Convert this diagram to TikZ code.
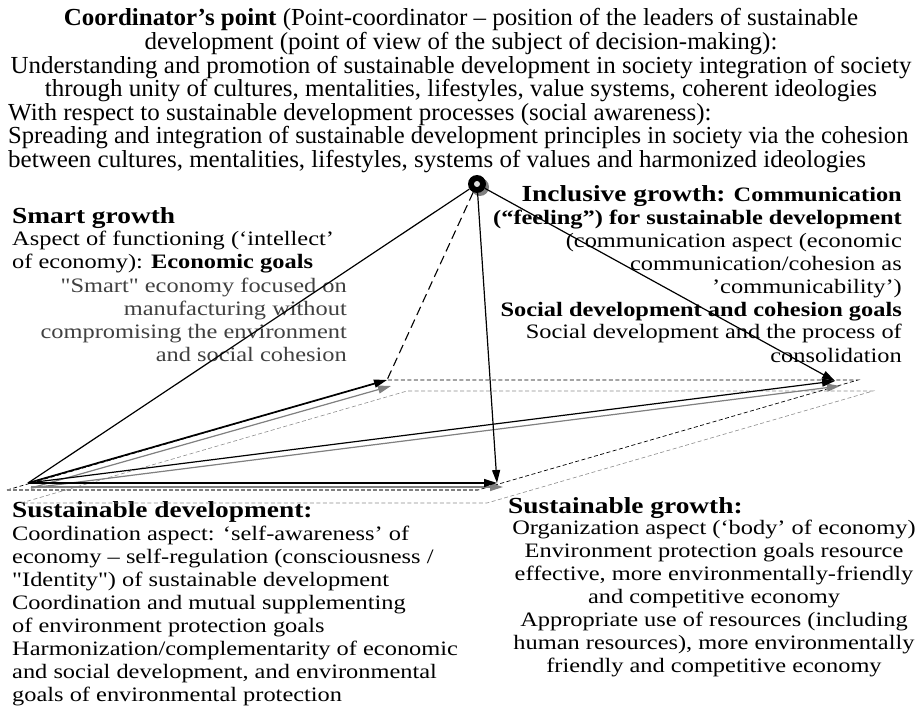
\documentclass[tikz,border=0pt]{standalone}
\usepackage{fontspec}
\setmainfont{Liberation Serif}
\newfontfamily\headfont[FakeStretch=1.02]{Liberation Serif}
\newfontfamily\bodyfont[FakeStretch=1.19]{Liberation Serif}
\usepackage{tikz}
\usetikzlibrary{arrows.meta, positioning, shadows}
% bigger bold heading inside a text block
\newcommand{\blockhead}[1]{{\fontsize{23}{23}\selectfont\bfseries #1}}

\begin{document}
\begin{tikzpicture}[x=1pt, y=-1pt]
	% Define custom styles to keep the code cleaner.
	\tikzset{
		headtext/.style={font=\headfont\fontsize{24.5}{23.6}\selectfont, inner sep=0pt},
		bodytext/.style={font=\bodyfont\fontsize{20.5}{23}\selectfont, inner sep=0pt},
		vec/.style={-{Triangle[length=13pt, width=8pt]}, line width=1.2pt},
		vecshadow/.style={vec, draw=black!50, fill=black!50},
		plane/.style={dash pattern=on 4pt off 2.5pt, line width=0.7pt},
		planeshadow/.style={dash pattern=on 4pt off 2.5pt, line width=0.6pt, draw=black!45}
	}
	\useasboundingbox (0,0) rectangle (922,706);

	% === TEXT ===
	% (base anchors sit on the last line of each block)
	\node[headtext, align=center, anchor=base] (coord) at (461,96.8)
		{\textbf{Coordinator’s point} (Point-coordinator – position of the leaders of sustainable\\
		development (point of view of the subject of decision-making):\\
		Understanding and promotion of sustainable development in society integration of society\\
		through unity of cultures, mentalities, lifestyles, value systems, coherent ideologies};
	\node[headtext, align=left, anchor=base west] (aware) at (8,167.6)
		{With respect to sustainable development processes (social awareness):\\
		\scalebox{0.985}[1]{Spreading and integration of sustainable development principles in society via the cohesion}\\
		between cultures, mentalities, lifestyles, systems of values and harmonized ideologies};

	\node[bodytext, align=left, anchor=base west] (smarttxt) at (12,269)
		{\blockhead{Smart growth}\\
		Aspect of functioning (‘intellect’\\
		of economy): \textbf{Economic goals}};
	\node[bodytext, text=black!75, align=right, anchor=base east] (smartgoal) at (347,361)
		{"Smart" economy focused on\\
		manufacturing without\\
		compromising the environment\\
		and social cohesion};

	\node[bodytext, align=right, anchor=base east] (incltxt) at (902,362)
		{\blockhead{Inclusive growth:} \textbf{Communication}\\
		\textbf{(“feeling”) for sustainable development}\\
		(communication aspect (economic\\
		communication/cohesion as\\
		’communicability’)\\
		\textbf{Social development and cohesion goals}\\
		Social development and the process of\\
		consolidation};

	\node[bodytext, align=left, anchor=base west] (sdtxt) at (12,701)
		{\blockhead{Sustainable development:}\\
		Coordination aspect: ‘self-awareness’ of\\
		economy – self-regulation (consciousness /\\
		"Identity") of sustainable development\\
		Coordination and mutual supplementing\\
		of environment protection goals\\
		Harmonization/complementarity of economic\\
		and social development, and environmental\\
		goals of environmental protection};

	\node[bodytext, anchor=base west] (sgtitle) at (508,513) {\blockhead{Sustainable growth:}};
	\node[bodytext, align=center, anchor=base] (sgtxt) at (714,672)
		{Organization aspect (‘body’ of economy)\\
		Environment protection goals resource\\
		effective, more environmentally-friendly\\
		and competitive economy\\
		Appropriate use of resources (including\\
		human resources), more environmentally\\
		friendly and competitive economy};

	% === PLANES ===
	\coordinate (base) at (28,483);
	\coordinate (smart) at (387,380);
	\coordinate (incl) at (835,381);
	\coordinate (sust) at (497,483);

	\coordinate (pa) at (7,490);
	\coordinate (pb) at (858,380);
	\coordinate (pc) at (478,490);
	\draw[planeshadow] (21,503) -- (407,391) -- (873,391) -- (487,503) -- cycle;
	\draw[plane] (pa) -- (smart) -- (pb) -- (pc);
	\draw[draw=black!50, line width=1.5pt, dash pattern=on 4pt off 2pt] (pa) -- (pc);

	% === VECTORS ===
	\draw[vecshadow] ([shift={(3,5)}]base) -- ([shift={(4,6)}]smart);
	\draw[vecshadow] ([shift={(3,5)}]base) -- ([shift={(5,5)}]incl);
	\draw[vecshadow] ([shift={(3,4)}]base) -- ([shift={(6,4)}]sust);

	\draw[vec, line width=1.7pt] (base) -- (smart);
	\draw[vec] (base) -- (incl);
	\draw[vec] (base) -- (sust);

	% coordinator point on top
	\node[circle, fill, minimum size=18pt, inner sep=0pt,
		drop shadow={shadow xshift=3pt, shadow yshift=-3pt, fill=black!50, opacity=1}] (apex) at (477,184) {};
	\fill[black!12] (apex) circle (3pt);

	\draw[line width=1.2pt] (apex) -- (base);
	\draw[line width=1.1pt, dash pattern=on 9pt off 5pt] (apex) -- (smart);
	\draw[vec] (apex) -- (incl);
	\draw[vec] (apex) -- (sust);
\end{tikzpicture}
\end{document}
